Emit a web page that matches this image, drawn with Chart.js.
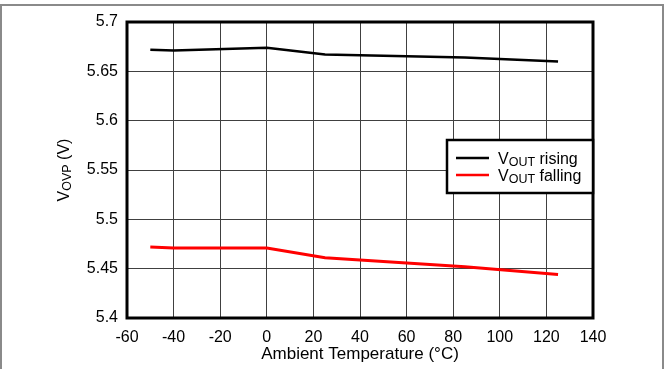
<!DOCTYPE html>
<html lang="en">
<head>
    <meta charset="UTF-8">
    <title>VOVP vs Ambient Temperature</title>
    <script src="https://cdn.jsdelivr.net/npm/chart.js"></script>
    <style>
        body { margin: 0; background: #fff; overflow: hidden; }
        .wrap { position: relative; width: 666px; height: 369px; overflow: hidden; }
        /* marco gris exterior */
        .frame { position: absolute; left: 0; top: 4px; width: 660px; height: 420px; border: 2px solid #8a8a8a; }
        canvas { position: absolute; left: 0; top: 0; }
    </style>
</head>
<body>
<div class="wrap">
    <div class="frame"></div>
    <canvas id="ovpChart" width="666" height="369"></canvas>
</div>

<script>
    // Datos
    const temps = [-50, -40, 0, 25, 85, 125];
    const vRising = [5.672, 5.671, 5.674, 5.667, 5.664, 5.660];
    const vFalling = [5.472, 5.471, 5.471, 5.461, 5.452, 5.444];

    const xTicks = [-60, -40, -20, 0, 20, 40, 60, 80, 100, 120, 140];
    const yTicks = [5.4, 5.45, 5.5, 5.55, 5.6, 5.65, 5.7];

    const seriesNames = ['rising', 'falling'];
    const seriesColors = ['#000000', '#ff0000'];

    const FONT = '"Liberation Sans", Arial, sans-serif';
    Chart.defaults.font.family = FONT;
    Chart.defaults.font.size = 16;
    Chart.defaults.color = '#000';

    // Dibuja "V" + subíndice + resto
    function subText(ctx, x, y, main, sub, rest) {
        ctx.font = '16px ' + FONT;
        ctx.fillText(main, x, y);
        x += ctx.measureText(main).width;
        ctx.font = '12.5px ' + FONT;
        ctx.fillText(sub, x, y + 2);
        x += ctx.measureText(sub).width;
        ctx.font = '16px ' + FONT;
        ctx.fillText(rest, x, y);
    }
    function subWidth(ctx, main, sub, rest) {
        ctx.font = '16px ' + FONT;
        let w = ctx.measureText(main).width + ctx.measureText(rest).width;
        ctx.font = '12.5px ' + FONT;
        return w + ctx.measureText(sub).width;
    }

    const extrasPlugin = {
        id: 'extras',
        afterDraw(chart) {
            const ctx = chart.ctx;
            const a = chart.chartArea;
            ctx.save();

            // borde del área de trazado
            ctx.strokeStyle = '#000';
            ctx.lineWidth = 3;
            ctx.strokeRect(a.left, a.top, a.right - a.left, a.bottom - a.top);

            // leyenda
            const bx = 447, by = 140, bw = a.right - 447, bh = 53;
            ctx.fillStyle = '#fff';
            ctx.fillRect(bx, by, bw, bh);
            ctx.strokeStyle = '#000';
            ctx.lineWidth = 2.5;
            ctx.strokeRect(bx, by, bw, bh);
            seriesNames.forEach((name, i) => {
                const ly = 158 + i * 17;
                ctx.strokeStyle = seriesColors[i];
                ctx.lineWidth = 2.5;
                ctx.beginPath();
                ctx.moveTo(456, ly);
                ctx.lineTo(489, ly);
                ctx.stroke();
                ctx.fillStyle = '#000';
                ctx.textBaseline = 'alphabetic';
                ctx.textAlign = 'left';
                subText(ctx, 498, ly + 5.5, 'V', 'OUT', ' ' + name);
            });

            // título eje X
            ctx.fillStyle = '#000';
            ctx.font = '17px ' + FONT;
            ctx.textAlign = 'center';
            ctx.textBaseline = 'alphabetic';
            ctx.fillText('Ambient Temperature (°C)', (a.left + a.right) / 2, 359);

            // título eje Y (rotado)
            ctx.translate(69, (a.top + a.bottom) / 2);
            ctx.rotate(-Math.PI / 2);
            ctx.textAlign = 'left';
            ctx.textBaseline = 'alphabetic';
            const w = subWidth(ctx, 'V', 'OVP', ' (V)');
            subText(ctx, -w / 2, 0, 'V', 'OVP', ' (V)');
            ctx.restore();
        }
    };

    const ctx = document.getElementById('ovpChart').getContext('2d');
    const ovpChart = new Chart(ctx, {
        type: 'line',
        data: {
            datasets: [
                {
                    label: 'VOUT rising',
                    data: temps.map((t, i) => ({ x: t, y: vRising[i] })),
                    borderColor: seriesColors[0],
                    borderWidth: 2.5,
                    pointRadius: 0,
                    tension: 0
                },
                {
                    label: 'VOUT falling',
                    data: temps.map((t, i) => ({ x: t, y: vFalling[i] })),
                    borderColor: seriesColors[1],
                    borderWidth: 3,
                    pointRadius: 0,
                    tension: 0
                }
            ]
        },
        options: {
            responsive: false,
            animation: false,
            layout: { padding: { top: 22, right: 73, left: 0, bottom: 0 } },
            plugins: {
                legend: { display: false },
                tooltip: { enabled: false }
            },
            scales: {
                x: {
                    type: 'linear',
                    min: -60,
                    max: 140,
                    afterBuildTicks: s => { s.ticks = xTicks.map(v => ({ value: v })); },
                    afterFit: s => { s.height = 51; },
                    grid: { color: '#404040', lineWidth: 1, drawTicks: false },
                    border: { display: false },
                    ticks: { padding: 10, maxRotation: 0, autoSkip: false, color: '#000' }
                },
                y: {
                    min: 5.4,
                    max: 5.7,
                    afterBuildTicks: s => { s.ticks = yTicks.map(v => ({ value: v })); },
                    afterFit: s => { s.width = 127; },
                    grid: { color: '#404040', lineWidth: 1, drawTicks: false },
                    border: { display: false },
                    ticks: {
                        padding: 9,
                        color: '#000',
                        callback: v => String(parseFloat(v.toFixed(2)))
                    }
                }
            }
        },
        plugins: [extrasPlugin]
    });
</script>
</body>
</html>
